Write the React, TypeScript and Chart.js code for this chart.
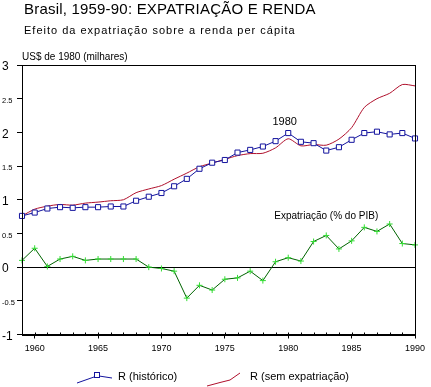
import React, { useEffect, useRef } from "react";
import { Chart, registerables } from "chart.js";
Chart.register(...registerables);

const YEARS = [1959, 1960, 1961, 1962, 1963, 1964, 1965, 1966, 1967, 1968, 1969, 1970, 1971, 1972, 1973, 1974, 1975, 1976, 1977, 1978, 1979, 1980, 1981, 1982, 1983, 1984, 1985, 1986, 1987, 1988, 1989, 1990];
const R_HISTORICO = [0.76, 0.81, 0.87, 0.89, 0.88, 0.89, 0.89, 0.9, 0.9, 0.985, 1.045, 1.1, 1.2, 1.31, 1.46, 1.55, 1.59, 1.7, 1.74, 1.79, 1.87, 1.99, 1.86, 1.84, 1.73, 1.78, 1.89, 1.99, 2.01, 1.97, 1.99, 1.91];
const R_SEM_EXPATRIACAO = [0.76, 0.86, 0.905, 0.93, 0.92, 0.95, 0.965, 0.985, 1.0, 1.105, 1.16, 1.21, 1.305, 1.395, 1.49, 1.545, 1.6, 1.655, 1.685, 1.69, 1.77, 1.905, 1.8, 1.82, 1.81, 1.9, 2.07, 2.37, 2.5, 2.58, 2.71, 2.69];
const EXPATRIACAO = [0.1, 0.28, 0.01, 0.12, 0.16, 0.1, 0.12, 0.12, 0.12, 0.12, 0.0, -0.02, -0.06, -0.46, -0.27, -0.34, -0.18, -0.16, -0.06, -0.2, 0.08, 0.14, 0.09, 0.38, 0.47, 0.27, 0.39, 0.59, 0.53, 0.64, 0.35, 0.33];
const X_TICKS = [1960, 1965, 1970, 1975, 1980, 1985, 1990];
const Y_MIN = -1;
const Y_MAX = 3;
const Y_STEP = 0.5;

const TITLE = "Brasil, 1959-90: EXPATRIAÇÃO E RENDA";
const SUBTITLE = "Efeito da expatriação sobre a renda per cápita";
const Y_UNIT = "US$ de 1980 (milhares)";
const NOTE_1980 = "1980";
const NOTE_EXPAT = "Expatriação (% do PIB)";
const LEGEND_HIST = "R (histórico)";
const LEGEND_SEM = "R (sem expatriação)";

const FONT = '"Liberation Sans", Arial, sans-serif';
const BLUE = "#14149e";
const RED = "#b0102c";
const GREEN_LINE = "#006400";
const GREEN_MARK = "#33dd33";

const pts = (vals: number[]) => vals.map((v, i) => ({ x: YEARS[i], y: v }));

const decor = {
  id: "decor",
  beforeDraw(chart: any) {
    const ctx = chart.ctx;
    ctx.save();
    ctx.fillStyle = "#fff";
    ctx.fillRect(0, 0, chart.width, chart.height);
    ctx.restore();
  },
  beforeDatasetsDraw(chart: any) {
    const { ctx, chartArea, scales } = chart;
    const y0 = Math.round(scales.y.getPixelForValue(0)) + 0.5;
    ctx.save();
    ctx.strokeStyle = "#000";
    ctx.lineWidth = 1;
    ctx.beginPath();
    ctx.moveTo(chartArea.left, y0);
    ctx.lineTo(chartArea.right, y0);
    ctx.stroke();
    ctx.restore();
  },
  afterDraw(chart: any) {
    const { ctx, chartArea, scales } = chart;
    const { left, right, top, bottom } = chartArea;
    const xs = scales.x;
    const ys = scales.y;
    ctx.save();
    ctx.strokeStyle = "#000";
    ctx.lineWidth = 1;
    // frame
    ctx.strokeRect(Math.round(left) + 0.5, Math.round(top) + 0.5, Math.round(right - left), Math.round(bottom - top));
    // minor ticks
    ctx.beginPath();
    YEARS.forEach((yr) => {
      const px = Math.round(xs.getPixelForValue(yr)) + 0.5;
      ctx.moveTo(px, bottom);
      ctx.lineTo(px, bottom - 2);
    });
    ctx.stroke();

    ctx.fillStyle = "#000";
    ctx.textBaseline = "alphabetic";
    ctx.textAlign = "left";
    ctx.font = `15px ${FONT}`;
    (ctx as any).letterSpacing = "0.2px";
    ctx.fillText(TITLE, 24, 14);
    ctx.font = `11px ${FONT}`;
    (ctx as any).letterSpacing = "1px";
    ctx.fillText(SUBTITLE, 24, 34);
    (ctx as any).letterSpacing = "0px";
    ctx.font = `10px ${FONT}`;
    ctx.fillText(Y_UNIT, 22, 60);

    // annotations
    const i80 = YEARS.indexOf(1980);
    ctx.font = `11px ${FONT}`;
    ctx.textAlign = "center";
    ctx.fillText(NOTE_1980, xs.getPixelForValue(1980) - 3.5, ys.getPixelForValue(R_HISTORICO[i80]) - 8);
    ctx.font = `10px ${FONT}`;
    ctx.textAlign = "left";
    ctx.fillText(NOTE_EXPAT, xs.getPixelForValue(1978.9), ys.getPixelForValue(0.72));

    // legend
    ctx.strokeStyle = BLUE;
    ctx.beginPath();
    ctx.moveTo(77, 383);
    ctx.lineTo(94, 377);
    ctx.moveTo(99, 376);
    ctx.lineTo(112, 378);
    ctx.stroke();
    ctx.fillStyle = "#fff";
    ctx.fillRect(94.5, 372.5, 5, 5);
    ctx.strokeRect(94.5, 372.5, 5, 5);
    ctx.fillStyle = "#000";
    ctx.font = `11px ${FONT}`;
    ctx.fillText(LEGEND_HIST, 118, 380);

    ctx.strokeStyle = RED;
    ctx.beginPath();
    ctx.moveTo(207, 386);
    ctx.lineTo(220, 382.5);
    ctx.lineTo(230, 380);
    ctx.lineTo(240, 373);
    ctx.stroke();
    ctx.fillStyle = "#000";
    ctx.fillText(LEGEND_SEM, 250, 380);
    ctx.restore();
  },
};

export default function App() {
  const ref = useRef<HTMLCanvasElement | null>(null);
  useEffect(() => {
    if (!ref.current) return;
    const chart = new Chart(ref.current, {
      type: "line",
      data: {
        datasets: [
          {
            label: LEGEND_HIST,
            data: pts(R_HISTORICO),
            borderColor: BLUE,
            borderWidth: 1,
            pointStyle: "rect",
            pointRadius: 3.6,
            pointBorderColor: BLUE,
            pointBackgroundColor: "#fff",
            pointBorderWidth: 1,
            tension: 0,
            clip: false,
            order: 1,
          },
          {
            label: LEGEND_SEM,
            data: pts(R_SEM_EXPATRIACAO),
            borderColor: RED,
            borderWidth: 1,
            pointRadius: 0,
            tension: 0.25,
            clip: false,
            order: 2,
          },
          {
            label: NOTE_EXPAT,
            data: pts(EXPATRIACAO),
            borderColor: GREEN_LINE,
            borderWidth: 1,
            pointStyle: "cross",
            pointRadius: 3,
            pointBorderColor: GREEN_MARK,
            pointBorderWidth: 1,
            tension: 0,
            clip: false,
            order: 3,
          },
        ],
      },
      options: {
        animation: false,
        responsive: false,
        devicePixelRatio: 1,
        layout: { padding: { top: 65, right: 16, left: 2, bottom: 0 } },
        plugins: { legend: { display: false }, tooltip: { enabled: false }, title: { display: false } },
        scales: {
          x: {
            type: "linear",
            min: 1959,
            max: 1990,
            afterBuildTicks: (s: any) => {
              s.ticks = X_TICKS.map((v) => ({ value: v }));
            },
            afterFit: (s: any) => {
              s.height = 52.5;
            },
            border: { display: true, color: "#000", width: 1 },
            grid: { drawOnChartArea: false, drawTicks: true, tickLength: 4, tickColor: "#000" },
            ticks: {
              autoSkip: false,
              maxRotation: 0,
              padding: 5,
              color: "#000",
              font: { size: 9, family: FONT },
              callback: (v: any) => String(v),
            },
          },
          y: {
            type: "linear",
            min: Y_MIN,
            max: Y_MAX,
            afterFit: (s: any) => {
              s.width = 20;
            },
            border: { display: true, color: "#000", width: 1 },
            grid: { drawOnChartArea: false, drawTicks: true, tickLength: 5, tickColor: "#000" },
            ticks: {
              stepSize: Y_STEP,
              crossAlign: "far",
              labelOffset: 2,
              color: "#000",
              font: (c: any) => ({ size: Number.isInteger(c.tick?.value) ? 12 : 7.5, family: FONT }),
              callback: (v: any) => String(v),
            },
          },
        },
      },
      plugins: [decor],
    });
    return () => chart.destroy();
  }, []);
  return (
    <div style={{ position: "absolute", left: 0, top: 0, width: 431, height: 387 }}>
      <canvas ref={ref} width={431} height={387} style={{ display: "block", width: 431, height: 387 }} />
    </div>
  );
}
